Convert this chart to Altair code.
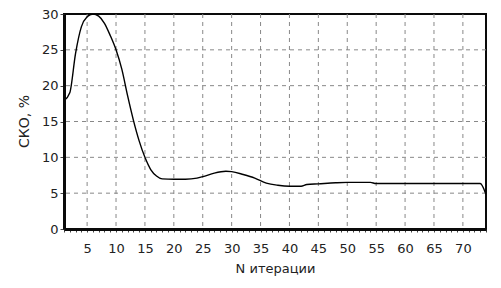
import altair as alt
import pandas as pd

iters = [1, 2, 3, 4, 5, 6, 7, 8, 9, 10, 11, 12, 13, 14, 15, 16, 17, 18, 20, 22,
         24, 25, 27, 29, 30, 32, 34, 36, 38, 40, 42, 43, 45, 48, 50, 54, 55,
         60, 65, 70, 73, 74]
sko = [17.9, 19.0, 24.5, 28.2, 29.6, 30.0, 29.7, 28.7, 27.0, 25.0, 22.3, 18.6,
       15.2, 12.3, 10.0, 8.3, 7.4, 7.0, 6.95, 6.95, 7.1, 7.3, 7.8, 8.05, 8.0,
       7.6, 7.1, 6.4, 6.1, 5.97, 5.97, 6.2, 6.3, 6.45, 6.5, 6.5, 6.35, 6.35,
       6.35, 6.35, 6.35, 4.8]

grid_x = [5, 10, 15, 20, 25, 30, 35, 40, 45, 50, 55, 60, 65, 70]
grid_y = [5, 10, 15, 20, 25]
y_ticks = [0, 5, 10, 15, 20, 25, 30]
x_ticks = list(range(1, 75))

df = pd.DataFrame({"x": iters, "y": sko})
gx = pd.DataFrame({"x": grid_x})
gy = pd.DataFrame({"y": grid_y})

FONT = "DejaVu Sans"
EDGE = "#0a0a0a"
xscale = alt.Scale(domain=[1, 74], nice=False, zero=False)
yscale = alt.Scale(domain=[0, 30], nice=False)

x_axis = alt.Axis(
    values=x_ticks, labelExpr="datum.value % 5 == 0 ? datum.label : ''",
    grid=False, tickSize=3, tickColor="#444", domain=True, domainColor=EDGE,
    domainWidth=3, zindex=2,
    labelPadding=10, labelFontSize=13, labelFont=FONT, labelColor="#222",
    labelFlush=False,
    title="N итерации", titleFont=FONT, titleFontSize=13, titleFontWeight="normal",
    titleColor="#222", titleX=211, titleY=39, titleBaseline="middle", titleAnchor="middle",
)
y_axis = alt.Axis(
    values=y_ticks, grid=False, tickSize=4, tickColor="#444", domain=True,
    domainColor=EDGE, domainWidth=3, zindex=2,
    labelPadding=2, labelFontSize=13, labelFont=FONT, labelColor="#222",
    labelFlush=False,
    title="СКО, %", titleFont=FONT, titleFontSize=14, titleFontWeight="normal",
    titleColor="#222", titleX=-40, titleY=107, titleAngle=-90, titleBaseline="middle",
    titleAlign="center",
)

vgrid = alt.Chart(gx).mark_rule(color="#888", strokeDash=[4, 4], strokeWidth=1).encode(
    x=alt.X("x:Q", scale=xscale, axis=x_axis)
)
hgrid = alt.Chart(gy).mark_rule(color="#888", strokeDash=[4, 4], strokeWidth=1).encode(
    y=alt.Y("y:Q", scale=yscale, axis=y_axis)
)

line = alt.Chart(df).mark_line(color="black", strokeWidth=1.4, interpolate="monotone", clip=True).encode(
    x=alt.X("x:Q", scale=xscale, axis=x_axis),
    y=alt.Y("y:Q", scale=yscale, axis=y_axis),
)

chart = alt.layer(vgrid, hgrid, line).properties(
    width=422, height=215,
    background="white",
    autosize=alt.AutoSizeParams(type="none"),
    padding={"left": 56, "top": 6, "right": 7, "bottom": 51},
).configure_view(stroke=EDGE, strokeWidth=2)

chart.save("out.html", embed_options={"renderer": "svg", "actions": False})
